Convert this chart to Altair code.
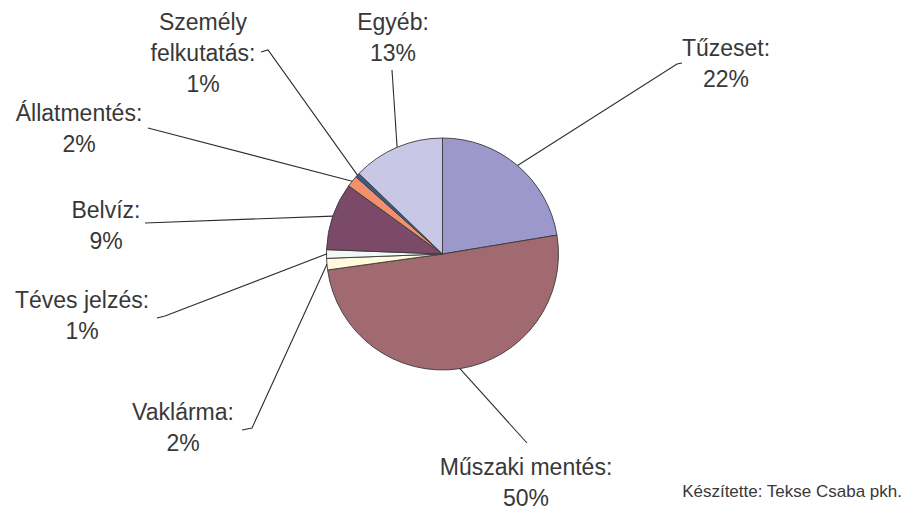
import math
import altair as alt
import pandas as pd

# ---- data ----
categories = ["Tűzeset", "Műszaki mentés", "Vaklárma", "Téves jelzés",
              "Belvíz", "Állatmentés", "Személy felkutatás", "Egyéb"]
shares = [22.4, 50.4, 1.6, 1.2, 9.4, 1.6, 0.6, 12.8]
label_names = ["Tűzeset:", "Műszaki mentés:", "Vaklárma:", "Téves jelzés:",
               "Belvíz:", "Állatmentés:", "Személy\nfelkutatás:", "Egyéb:"]
colors = ["#9c98cc", "#a06a70", "#fffbdc", "#f2f7f7",
          "#7a4a68", "#f0906c", "#3a5a8a", "#c9c7e6"]
credit = "Készítette: Tekse Csaba pkh."

# ---- layout (chart pixel space) ----
W, H, M = 906, 503, 8
CX, CY, R = 442.5 - M, 254 - M, 116

label_pos = {  # first-line centres, picture coordinates
    "Tűzeset": (726, 49),
    "Műszaki mentés": (526, 468),
    "Vaklárma": (183, 413),
    "Téves jelzés": (82, 301),
    "Belvíz": (106, 211),
    "Állatmentés": (79, 114),
    "Személy felkutatás": (203, 23),
    "Egyéb": (393, 23),
}
leader_pts = {  # points after the pie edge, picture coordinates
    "Tűzeset": [(677, 64), (682, 63)],
    "Műszaki mentés": [(527, 443)],
    "Vaklárma": [(252, 428), (242, 430)],
    "Téves jelzés": [(165, 316), (157, 318)],
    "Belvíz": [(145, 223)],
    "Állatmentés": [(148, 128)],
    "Személy felkutatás": [(268, 50), (261, 52)],
    "Egyéb": [(392, 70)],
}

df = pd.DataFrame({"cat": categories, "share": shares, "idx": range(len(categories))})

total = sum(shares)
rows_lines, rows_text = [], []
cum = 0.0
for i, (c, v) in enumerate(zip(categories, shares)):
    mid = (cum + v / 2) / total * 2 * math.pi
    cum += v
    ex, ey = CX + R * math.sin(mid), CY - R * math.cos(mid)
    rows_lines.append({"cat": c, "seq": 0, "px": ex, "py": ey})
    for j, (px, py) in enumerate(leader_pts[c]):
        rows_lines.append({"cat": c, "seq": j + 1, "px": px - M, "py": py - M})
    lx, ly = label_pos[c]
    rows_text.append({"cat": c, "px": lx - M, "py": ly - M,
                      "label": f"{label_names[i]}\n{round(v)}%"})

lines_df = pd.DataFrame(rows_lines)
text_df = pd.DataFrame(rows_text)
credit_df = pd.DataFrame({"label": [credit], "px": [902 - M], "py": [492 - M]})

xs = alt.Scale(domain=[0, W], nice=False, zero=False)
ys = alt.Scale(domain=[0, H], nice=False, zero=False, reverse=True)

pie = alt.Chart(df).mark_arc(outerRadius=R, stroke="#3a3a3a", strokeWidth=0.9).encode(
    theta=alt.Theta("share:Q", stack=True),
    color=alt.Color("cat:N", scale=alt.Scale(domain=categories, range=colors), legend=None),
    order=alt.Order("idx:Q"),
    x=alt.value(CX),
    y=alt.value(CY),
)

leaders = alt.Chart(lines_df).mark_line(color="#2e2e2e", strokeWidth=1.1).encode(
    x=alt.X("px:Q", scale=xs, axis=None),
    y=alt.Y("py:Q", scale=ys, axis=None),
    detail="cat:N",
    order="seq:Q",
)

labels = alt.Chart(text_df).mark_text(
    font="Liberation Sans", fontSize=23, lineHeight=31, lineBreak="\n",
    align="center", baseline="middle", color="#383838",
).encode(
    x=alt.X("px:Q", scale=xs, axis=None),
    y=alt.Y("py:Q", scale=ys, axis=None),
    text="label:N",
)

credit_txt = alt.Chart(credit_df).mark_text(
    font="Liberation Sans", fontSize=17, align="right", baseline="middle", color="#383838",
).encode(
    x=alt.X("px:Q", scale=xs, axis=None),
    y=alt.Y("py:Q", scale=ys, axis=None),
    text="label:N",
)

chart = alt.layer(pie, leaders, labels, credit_txt).properties(
    width=W, height=H, padding=0, autosize="none", background="white"
).configure_view(stroke=None)

chart.save("out.html", embed_options={"renderer": "svg", "actions": False})
